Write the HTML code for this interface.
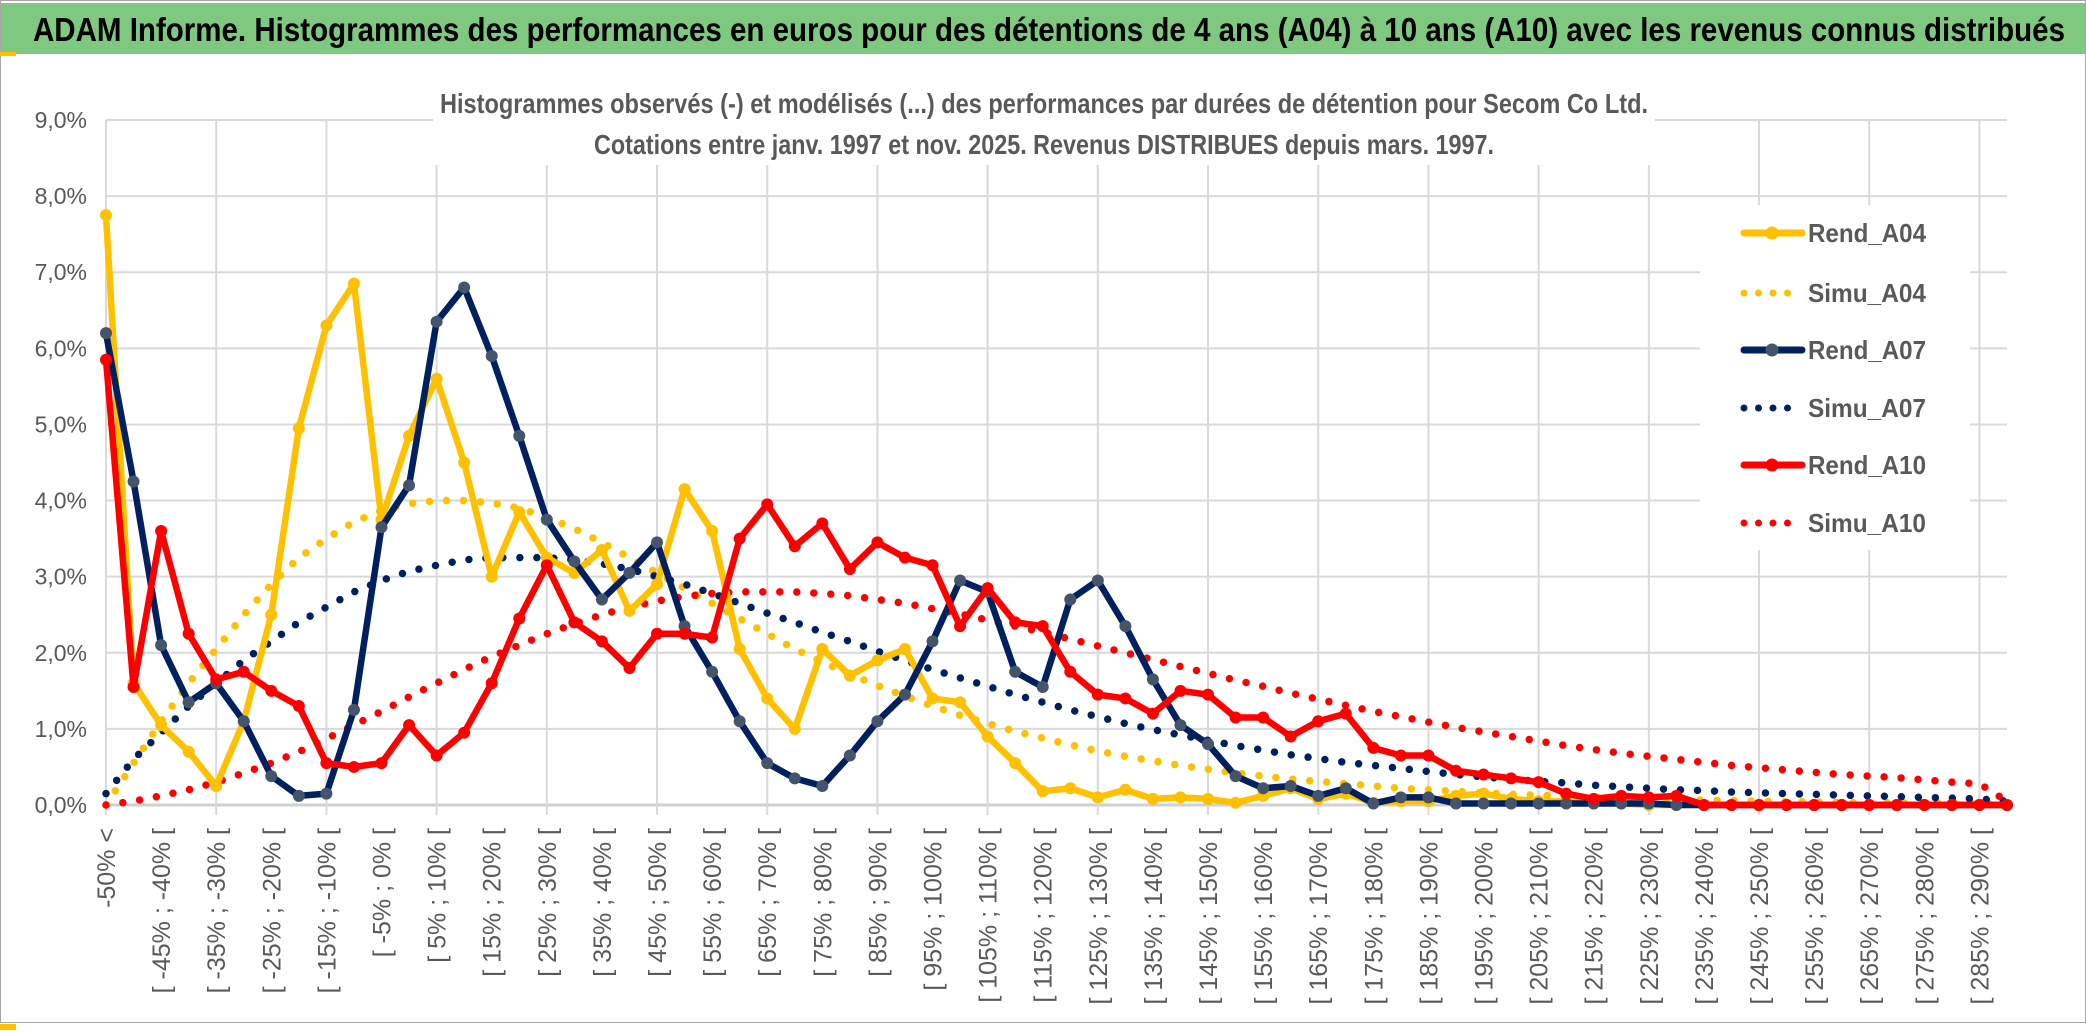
<!DOCTYPE html>
<html><head><meta charset="utf-8"><style>
html,body{margin:0;padding:0;background:#fff;}
svg{display:block;font-family:"Liberation Sans Narrow","Liberation Sans",sans-serif;}
</style></head><body>
<svg id="chart" width="2086" height="1033" viewBox="0 0 2086 1033">
<rect x="0" y="0" width="2086" height="1033" fill="#fff"/>
<rect x="0.5" y="0.5" width="2085" height="1022" fill="none" stroke="#a6a6a6"/>
<rect x="1" y="3" width="2084" height="51" fill="#7ec87f"/>
<text x="33" y="41" font-size="33" font-weight="bold" fill="#000" textLength="2032" lengthAdjust="spacingAndGlyphs">ADAM Informe. Histogrammes des performances en euros pour des détentions de 4 ans (A04) à 10 ans (A10) avec les revenus connus distribués</text>
<rect x="0" y="52" width="16" height="4" fill="#ffc000"/>
<rect x="0" y="1024" width="16" height="6" fill="#ffc000"/>
<g id="grid"></g>
<g id="yaxis"></g>
<g id="xaxis"></g>
<rect x="433" y="70" width="1222" height="95" fill="#fff"/>
<text x="1044" y="113" font-size="28" font-weight="bold" fill="#595959" text-anchor="middle" textLength="1208" lengthAdjust="spacingAndGlyphs">Histogrammes observés (-) et modélisés (...) des performances par durées de détention pour Secom Co Ltd.</text>
<text x="1044" y="154" font-size="28" font-weight="bold" fill="#595959" text-anchor="middle" textLength="900" lengthAdjust="spacingAndGlyphs">Cotations entre janv. 1997 et nov. 2025. Revenus DISTRIBUES depuis mars. 1997.</text>
<g id="series"></g>
<rect x="1700" y="205" width="270" height="345" fill="#fff"/>
<g id="legend"></g>
</svg>
<script>
const rendA04=[7.75,1.6,1.05,0.7,0.25,1.1,2.5,4.95,6.3,6.85,3.75,4.85,5.6,4.5,3.0,3.85,3.25,3.05,3.35,2.55,2.9,4.15,3.6,2.05,1.4,1.0,2.05,1.7,1.9,2.05,1.4,1.35,0.9,0.55,0.18,0.22,0.1,0.2,0.08,0.1,0.08,0.03,0.12,0.22,0.08,0.15,0.03,0.05,0.05,0.12,0.15,0.08,0.05,0.05,0.03,0.02,0,0,0,0,0,0,0,0,0,0,0,0,0,0];
const simuA04=[0,0.55,1.1,1.6,2.05,2.5,2.9,3.25,3.5,3.72,3.87,3.96,4.0,4.0,3.97,3.9,3.78,3.63,3.45,3.25,3.05,2.85,2.65,2.45,2.25,2.05,1.88,1.72,1.57,1.43,1.3,1.18,1.07,0.97,0.88,0.79,0.71,0.64,0.58,0.52,0.47,0.42,0.38,0.34,0.31,0.28,0.25,0.22,0.2,0.18,0.16,0.14,0.13,0.12,0.1,0.09,0.08,0.07,0.065,0.06,0.05,0.045,0.04,0.035,0.03,0.03,0.025,0.02,0.02,0.01];
const rendA07=[6.2,4.25,2.1,1.35,1.6,1.1,0.38,0.12,0.15,1.25,3.65,4.2,6.35,6.8,5.9,4.85,3.75,3.2,2.7,3.05,3.45,2.35,1.75,1.1,0.55,0.35,0.25,0.65,1.1,1.45,2.15,2.95,2.8,1.75,1.55,2.7,2.95,2.35,1.65,1.05,0.8,0.38,0.22,0.25,0.12,0.22,0.02,0.1,0.1,0.02,0.02,0.02,0.02,0.02,0.02,0.02,0.02,0,0,0,0,0,0,0,0,0,0,0,0,0];
const simuA07=[0.15,0.6,0.95,1.3,1.6,1.9,2.15,2.4,2.6,2.8,2.95,3.07,3.15,3.22,3.25,3.25,3.25,3.22,3.17,3.1,3.0,2.9,2.78,2.65,2.52,2.4,2.27,2.15,2.02,1.9,1.78,1.67,1.56,1.45,1.35,1.25,1.16,1.07,0.99,0.92,0.85,0.78,0.72,0.66,0.61,0.56,0.52,0.48,0.44,0.4,0.37,0.34,0.31,0.29,0.26,0.24,0.22,0.2,0.19,0.17,0.16,0.15,0.14,0.13,0.12,0.11,0.1,0.09,0.08,0.05];
const rendA10=[5.85,1.55,3.6,2.25,1.65,1.75,1.5,1.3,0.55,0.5,0.55,1.05,0.65,0.95,1.6,2.45,3.15,2.4,2.15,1.8,2.25,2.25,2.2,3.5,3.95,3.4,3.7,3.1,3.45,3.25,3.15,2.35,2.85,2.4,2.35,1.75,1.45,1.4,1.2,1.5,1.45,1.15,1.15,0.9,1.1,1.2,0.75,0.65,0.65,0.45,0.4,0.35,0.3,0.15,0.08,0.12,0.1,0.12,0,0,0,0,0,0,0,0,0,0,0,0];
const simuA10=[0,0.05,0.12,0.2,0.3,0.42,0.55,0.7,0.87,1.05,1.23,1.42,1.6,1.78,1.95,2.1,2.25,2.38,2.5,2.6,2.68,2.74,2.78,2.8,2.8,2.8,2.78,2.75,2.7,2.65,2.58,2.51,2.43,2.35,2.27,2.18,2.09,2.0,1.91,1.82,1.73,1.64,1.56,1.47,1.39,1.31,1.23,1.16,1.09,1.02,0.96,0.9,0.84,0.78,0.73,0.68,0.64,0.6,0.56,0.52,0.49,0.46,0.43,0.4,0.38,0.36,0.33,0.3,0.28,0.05];
const yTicks=[0,1,2,3,4,5,6,7,8,9];
const categories=["-50% <"];
for(let k=1;k<70;k++){categories.push("[ "+(-55+5*k)+"% ; "+(-50+5*k)+"% [");}

const NS="http://www.w3.org/2000/svg";
const X0=106,X1=2007,Y0=805,Y1=120,YMAX=9;
const n=categories.length;
function xs(i){return X0+(X1-X0)*i/(n-1);}
function ys(v){return Y0-(Y0-Y1)*v/YMAX;}
function mk(tag,attrs,parent){const e=document.createElementNS(NS,tag);for(const k in attrs)e.setAttribute(k,attrs[k]);parent.appendChild(e);return e;}
const grid=document.getElementById('grid'),yax=document.getElementById('yaxis'),xax=document.getElementById('xaxis'),ser=document.getElementById('series'),leg=document.getElementById('legend');
yTicks.forEach(t=>{
  const l=mk('line',{x1:X0,x2:X1,y1:ys(t),y2:ys(t),stroke:t===0?'#d0d0d0':'#d9d9d9','stroke-width':t===0?3:2},grid);
  
  
  const tx=mk('text',{x:87,y:ys(t)+8,'font-size':23,fill:'#595959','text-anchor':'end'},yax);
  tx.textContent=t.toFixed(1).replace('.',',')+'%';
  
  
});
for(let i=0;i<n;i+=4){
  const l=mk('line',{x1:xs(i),x2:xs(i),y1:Y1,y2:Y0+10,stroke:'#d9d9d9','stroke-width':2},grid);
  
  
}
for(let i=0;i<n;i+=2){
  const x=xs(i)+9,y=828;
  const tx=mk('text',{x:x,y:y,'font-size':25,fill:'#595959','text-anchor':'end',transform:'rotate(-90 '+x+' '+y+')'},xax);
  tx.textContent=categories[i];
  
  
}
function dotted(data,color,name){
  const p=mk('polyline',{points:data.map((v,i)=>xs(i)+','+ys(v)).join(' '),fill:'none',stroke:color,'stroke-width':7.5,'stroke-linecap':'round','stroke-dasharray':'0 17'},ser);
  
  
}
function solid(data,color,mcolor,name){
  const g=mk('g',{},ser);
  
  
  mk('polyline',{points:data.map((v,i)=>xs(i)+','+ys(v)).join(' '),fill:'none',stroke:color,'stroke-width':6.5,'stroke-linejoin':'round'},g);
  data.forEach((v,i)=>{
    const c=mk('circle',{cx:xs(i),cy:ys(v),r:6,fill:mcolor},g);
    
    
  });
}
dotted(simuA04,'#ffc000','simu-a04-line');
dotted(simuA07,'#002060','simu-a07-line');
dotted(simuA10,'#ff0000','simu-a10-line');
solid(rendA04,'#ffc000','#ffc000','rend-a04-line');
solid(rendA07,'#002060','#44546a','rend-a07-line');
solid(rendA10,'#ff0000','#ff0000','rend-a10-line');
const legItems=[["Rend_A04","#ffc000","#ffc000",false],["Simu_A04","#ffc000","",true],["Rend_A07","#002060","#44546a",false],["Simu_A07","#002060","",true],["Rend_A10","#ff0000","#ff0000",false],["Simu_A10","#ff0000","",true]];
const legY=[233,293,350,408,465,523];
legItems.forEach((it,k)=>{
  const g=mk('g',{},leg);
  
  
  const y=legY[k];
  if(it[3]){mk('line',{x1:1744,x2:1798,y1:y,y2:y,stroke:it[1],'stroke-width':7,'stroke-linecap':'round','stroke-dasharray':'0 14.5'},g);}
  else{mk('line',{x1:1744,x2:1802,y1:y,y2:y,stroke:it[1],'stroke-width':7,'stroke-linecap':'round'},g);mk('circle',{cx:1772,cy:y,r:6.5,fill:it[2]},g);}
  const t=mk('text',{x:1808,y:y+9,'font-size':26,'font-weight':'bold',fill:'#595959',textLength:118,lengthAdjust:'spacingAndGlyphs'},g);
  t.textContent=it[0];
});
</script>
</body></html>
